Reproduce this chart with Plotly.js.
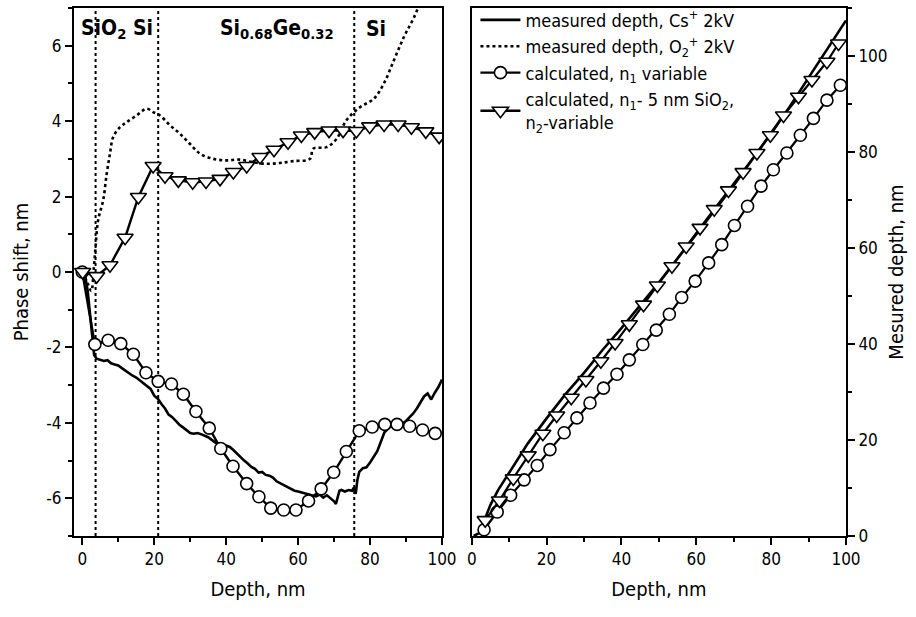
<!DOCTYPE html>
<html><head><meta charset="utf-8">
<script src="https://cdn.plot.ly/plotly-3.0.1.min.js"></script>
<style>body{margin:0;background:#fff}#chart{width:916px;height:617px}</style>
</head><body><div id="chart"></div><script>
// ---------- data (left panel: phase shift vs depth) ----------
const csDepthL = [0,0.8,1.5,2.2,2.8,3.3,4,5,6,7,8,9,10,11,12,13,14,15,16,17,18,19,20,21,22,23,24,25,26,27,28,29,30,31,32,33,34,35,36,37,38,39,40,41,42,43,44,45,46,47,48,49,50,51,52,53,54,55,56,57,58,59,60,61,62,63,64,65,66,67,68,69,70,70.5,71.5,72,73,74,75,75.5,76,76.5,77,78,79,80,81,82,83,84,85,86,87,88,89,90,91,92,93,94,95,96,97,98,99,100];
const csPhaseL = [0,-0.1,-0.5,-1.1,-1.7,-2.2,-2.3,-2.33,-2.36,-2.34,-2.42,-2.45,-2.48,-2.55,-2.62,-2.68,-2.75,-2.8,-2.88,-2.96,-3.02,-3.1,-3.28,-3.36,-3.5,-3.62,-3.78,-3.85,-3.95,-4.05,-4.12,-4.2,-4.27,-4.29,-4.27,-4.3,-4.34,-4.38,-4.45,-4.52,-4.55,-4.62,-4.6,-4.64,-4.72,-4.82,-4.92,-5.0,-5.08,-5.17,-5.22,-5.32,-5.3,-5.38,-5.4,-5.45,-5.55,-5.6,-5.65,-5.72,-5.76,-5.8,-5.82,-5.85,-5.88,-5.9,-5.92,-5.95,-5.9,-5.98,-5.92,-6.0,-6.08,-6.15,-5.8,-5.78,-5.82,-5.78,-5.8,-5.72,-5.88,-5.5,-5.3,-5.2,-5.18,-5.05,-4.9,-4.75,-4.5,-4.25,-4.15,-4.08,-4.05,-4.02,-4.02,-3.95,-3.85,-3.75,-3.62,-3.45,-3.3,-3.22,-3.38,-3.2,-3.05,-2.85];

const o2DepthL = [0,1.5,2.5,3.2,3.7,4.4,5.8,6.8,7.7,8.6,10.5,12.3,15.1,17.9,19.7,21.6,24.4,27.1,29.9,32.7,36.4,40.1,43.8,47.5,51.2,54.9,58.6,63.3,64.2,67.9,70.7,73.4,77.2,81.0,83.8,86.6,89.4,92.2,95];
const o2PhaseL = [0,-0.3,-0.5,0.1,0.66,1.37,1.9,2.61,3.14,3.58,3.84,3.97,4.15,4.33,4.24,4.15,3.89,3.67,3.4,3.14,3.0,2.96,2.98,2.91,2.87,2.89,2.94,3.0,3.27,3.31,3.53,4.02,4.37,4.59,4.99,5.61,6.23,6.75,7.4];

const n1DepthL = [0,3.5,7.2,10.7,14.2,17.7,21.1,24.8,28.1,31.6,35.3,38.5,41.9,45.7,49.1,52.4,56.0,59.4,62.9,66.4,69.9,73.4,77.0,80.6,84.1,87.5,91.0,94.6,98.1];
const n1PhaseL = [0,-1.92,-1.81,-1.9,-2.18,-2.67,-2.9,-2.97,-3.24,-3.7,-4.14,-4.68,-5.15,-5.61,-5.96,-6.26,-6.31,-6.31,-6.07,-5.75,-5.31,-4.76,-4.21,-4.11,-4.04,-4.04,-4.09,-4.19,-4.28];

const n2DepthL = [0.1,4.0,7.7,11.9,15.6,19.7,23.0,26.7,30.7,34.4,38.3,42.0,45.7,49.4,53.3,57.2,60.9,64.6,68.6,72.5,76.2,79.9,83.9,87.8,91.5,95.5,99.2];
const n2PhaseL = [0,-0.11,0.18,0.91,1.99,2.81,2.54,2.43,2.38,2.4,2.47,2.65,2.81,3.05,3.24,3.44,3.62,3.71,3.75,3.75,3.74,3.86,3.91,3.91,3.84,3.73,3.59];

const layerBoundaries = [3.7, 21.1, 75.6];

const phaseTickVals   = [-6,-4,-2,0,2,4,6];
const phaseTickLabels = ['-6','-4','-2','0','2','4','6'];

// ---------- data (right panel: measured depth vs depth) ----------
const csDepthR = [0.5,2,3.5,5,7,9,12,15,20,25,30,35,40,45,50,55,60,65,70,75,80,85,90,95,100];
const csMeasR  = [0,0.6,3.5,6.5,9.5,12,15.5,19.3,24.5,29.5,34,38.8,43.3,48,52.8,57.8,62.8,67.8,73,78.5,84,89.5,95.5,101.5,107.4];

const n1DepthR = [3.3,6.8,10.4,14.0,17.5,20.9,24.7,28.1,31.6,35.2,38.8,42.1,45.7,49.3,52.8,56.1,59.7,63.3,66.8,70.2,73.7,77.3,80.6,84.2,87.8,91.3,94.9,98.5];
const n1MeasR  = [1.3,5.0,8.5,11.7,14.7,18.0,21.5,24.6,27.7,30.8,33.7,36.7,39.9,42.9,46.2,49.7,53.1,56.9,60.7,64.7,68.7,72.9,76.3,79.8,83.5,87.0,90.8,93.9];

const n2DepthR = [3.6,7.4,11.1,15.1,19.0,22.7,26.6,30.5,34.5,38.3,42.1,45.9,49.6,53.5,57.3,61.0,64.8,68.6,72.5,76.2,79.8,83.3,87.3,90.9,94.9,98.0];
const n2MeasR  = [3.3,7.4,12.0,16.8,21.3,25.1,28.8,32.5,36.4,40.2,44.1,48.2,52.2,56.2,60.3,64.2,68.1,72.0,75.8,79.8,83.5,87.6,91.5,95.0,98.8,102.6];

const seriesNames = [
  "measured depth, Cs<sup>+</sup> 2kV",
  "measured depth, O<sub>2</sub><sup>+</sup> 2kV",
  "calculated, n<sub>1</sub> variable",
  "calculated, n<sub>1</sub>- 5 nm SiO<sub>2</sub>,<br>n<sub>2</sub>-variable"
];
const layerLabels = ["<b>SiO<sub>2</sub> Si</b>", "<b>Si<sub>0.68</sub>Ge<sub>0.32</sub></b>", "<b>Si</b>"];
const layerLabelX = [-0.9, 37.8, 78.3];

// ---------- drawing ----------
const FONT = "'DejaVu Sans Condensed', 'DejaVu Sans', sans-serif";
const K = '#000';
const circ = {symbol:'circle', size:12, color:'#fff', line:{color:K, width:1.6}};
const tri  = {symbol:'triangle-down', size:14, color:'#fff', line:{color:K, width:1.6}};

const traces = [
  {x:csDepthL, y:csPhaseL, mode:'lines', line:{color:K,width:2.6}, name:seriesNames[0], xaxis:'x', yaxis:'y'},
  {x:o2DepthL, y:o2PhaseL, mode:'lines', line:{color:K,width:2.6,dash:'dot',shape:'spline'}, name:seriesNames[1], xaxis:'x', yaxis:'y'},
  {x:n1DepthL, y:n1PhaseL, mode:'lines+markers', line:{color:K,width:2.4}, marker:circ, name:seriesNames[2], xaxis:'x', yaxis:'y'},
  {x:n2DepthL, y:n2PhaseL, mode:'lines+markers', line:{color:K,width:2.4}, marker:tri, name:seriesNames[3], xaxis:'x', yaxis:'y'},
  {x:csDepthR, y:csMeasR, mode:'lines', line:{color:K,width:2.6}, showlegend:false, xaxis:'x2', yaxis:'y2'},
  {x:n1DepthR, y:n1MeasR, mode:'lines+markers', line:{color:K,width:2.2}, marker:circ, showlegend:false, xaxis:'x2', yaxis:'y2'},
  {x:n2DepthR, y:n2MeasR, mode:'lines+markers', line:{color:K,width:2.2}, marker:tri, showlegend:false, xaxis:'x2', yaxis:'y2'}
];

const axBase = {
  showline:true, linewidth:2, linecolor:K, mirror:true, zeroline:false, showgrid:false,
  ticks:'outside', ticklen:7, tickwidth:2, tickcolor:K,
  tickfont:{family:FONT, size:17, color:K},
  minor:{ticks:'outside', ticklen:4, tickwidth:2, tickcolor:K}
};
const titleFont = {family:FONT, size:20, color:K};

const layout = {
  width:916, height:617,
  margin:{l:74, r:70, t:8, b:81, autoexpand:false},
  paper_bgcolor:'#fff', plot_bgcolor:'#fff',
  font:{family:FONT, color:K},
  showlegend:true,
  legend:{x:0.52, y:1.012, xanchor:'left', yanchor:'top', bgcolor:'rgba(0,0,0,0)', borderwidth:0,
          font:{family:FONT, size:18, color:K}, tracegroupgap:0, itemwidth:40},
  xaxis:Object.assign({}, axBase, {domain:[0,0.4767], range:[-2.3,100], anchor:'y', tick0:0, dtick:20,
          minor:Object.assign({}, axBase.minor, {dtick:10, tick0:0}),
          title:{text:'Depth, nm', font:titleFont, standoff:14}}),
  yaxis:Object.assign({}, axBase, {domain:[0,1], range:[-7,7], anchor:'x',
          tickmode:'array', tickvals:phaseTickVals, ticktext:phaseTickLabels,
          minor:Object.assign({}, axBase.minor, {dtick:1, tick0:0}),
          title:{text:'Phase shift, nm', font:titleFont, standoff:12}}),
  xaxis2:Object.assign({}, axBase, {domain:[0.5152,1], range:[0,100], anchor:'y2', tick0:0, dtick:20,
          minor:Object.assign({}, axBase.minor, {dtick:10, tick0:0}),
          title:{text:'Depth, nm', font:titleFont, standoff:14}}),
  yaxis2:Object.assign({}, axBase, {domain:[0,1], range:[0,110], anchor:'x2', side:'right', tick0:0, dtick:20,
          minor:Object.assign({}, axBase.minor, {dtick:10, tick0:0}),
          title:{text:'Mesured depth, nm', font:titleFont, standoff:2}}),
  shapes: layerBoundaries.map(b => ({type:'line', xref:'x', yref:'y domain', x0:b, x1:b, y0:0, y1:1,
          line:{color:K, width:2, dash:'dot'}, layer:'below'})),
  annotations: layerLabels.map((t,i) => ({text:t, xref:'x', yref:'y', x:layerLabelX[i], y:6.45,
          xanchor:'left', yanchor:'middle', showarrow:false, font:{family:FONT, size:21, color:K}}))
};

Plotly.newPlot('chart', traces, layout, {displayModeBar:false, staticPlot:true});
</script></body></html>
